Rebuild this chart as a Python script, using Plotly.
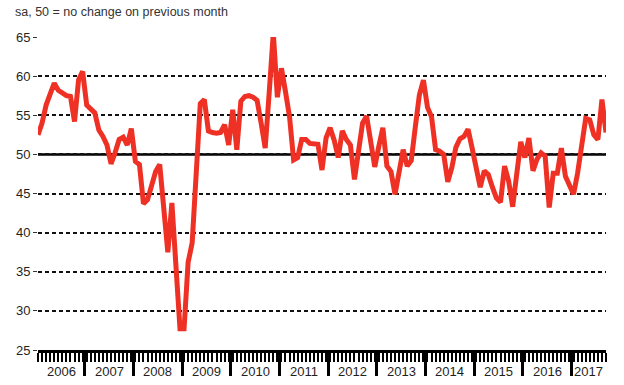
import plotly.graph_objects as go

# Monthly index, seasonally adjusted, Jan 2006 onwards (50 = no change on previous month)
first_year = 2006
index_values = [
    # 2006
    52.5, 54.0, 56.3, 57.8, 59.1, 58.2, 57.8, 57.5, 57.4, 54.2, 59.5, 60.6,
    # 2007
    56.3, 55.9, 55.3, 53.1, 52.3, 51.2, 48.8, 50.2, 51.9, 52.2, 51.2, 53.3,
    # 2008
    49.1, 48.7, 43.7, 44.2, 46.2, 47.8, 48.7, 42.1, 37.5, 43.8, 35.3, 27.7,
    # 2009
    27.7, 36.2, 38.7, 47.5, 56.5, 57.0, 53.0, 52.8, 52.7, 52.8, 53.8, 51.2,
    # 2010
    55.7, 50.6, 56.8, 57.4, 57.5, 57.3, 56.9, 54.0, 50.8, 58.0, 65.5, 57.3,
    # 2011
    61.0, 58.0, 54.8, 49.3, 49.6, 51.9, 51.9, 51.4, 51.3, 51.3, 48.0, 52.1,
    # 2012
    53.4, 51.8, 49.6, 53.0, 51.9, 51.2, 46.8, 50.4, 54.0, 54.9, 51.7, 48.4,
    # 2013
    51.0, 53.4, 48.5, 47.8, 44.9, 47.7, 50.6, 48.5, 49.2, 53.5, 57.6, 59.5,
    # 2014
    56.0, 54.8, 50.6, 50.4, 50.0, 46.5, 48.3, 50.9, 52.0, 52.3, 53.2, 50.8,
    # 2015
    48.2, 45.8, 47.9, 47.4, 45.8, 44.4, 43.9, 48.5, 46.6, 43.3, 47.5, 51.6,
    # 2016
    49.6, 52.1, 47.9, 49.4, 50.2, 49.8, 43.2, 47.6, 47.6, 50.8, 47.2, 46.0,
    # 2017
    44.9, 47.6, 51.5, 54.6, 54.4, 52.5, 51.9, 57.0, 52.8,
]
year_labels = ["2006", "2007", "2008", "2009", "2010", "2011",
               "2012", "2013", "2014", "2015", "2016", "2017"]
y_ticks = [25, 30, 35, 40, 45, 50, 55, 60, 65]
no_change_level = 50
subtitle = "sa, 50 = no change on previous month"

month_idx = list(range(len(index_values)))
last_idx = month_idx[-1]

# year boundaries sit between December and January
year_bounds = [12 * k - 0.5 for k in range(1, len(year_labels))]
year_centres = []
for k in range(len(year_labels)):
    lo = max(0, 12 * k - 0.5)
    hi = min(last_idx, 12 * (k + 1) - 0.5)
    year_centres.append((lo + hi) / 2)

LINE_RED = "#ee3124"
INK = "#1f1f1f"
FONT = "Liberation Sans, Arial, sans-serif"

fig = go.Figure()
fig.add_trace(go.Scatter(
    x=month_idx, y=index_values, mode="lines",
    line=dict(color=LINE_RED, width=5, shape="linear"),
    cliponaxis=False, hoverinfo="skip", showlegend=False,
))

# solid reference line at 50
fig.add_shape(type="line", xref="paper", x0=0, x1=1, yref="y",
              y0=no_change_level, y1=no_change_level,
              line=dict(color="#000000", width=2.5), layer="below")

for label, xc in zip(year_labels, year_centres):
    fig.add_annotation(x=xc, xref="x", y=0, yref="paper", yshift=-21,
                       text=label, showarrow=False, xanchor="center",
                       yanchor="middle", font=dict(size=13, color=INK, family=FONT))

fig.add_annotation(x=0, xref="paper", xshift=-25, y=1, yref="paper", yshift=25,
                   text=subtitle, showarrow=False, xanchor="left", yanchor="middle",
                   font=dict(size=12.5, color="#333333", family=FONT))

fig.update_layout(
    width=624, height=385,
    margin=dict(l=38, r=18, t=37, b=33),
    paper_bgcolor="white", plot_bgcolor="white",
    font=dict(family=FONT, color=INK, size=13),
    xaxis=dict(
        range=[0, last_idx], showgrid=False, zeroline=False,
        showline=True, linecolor="#000000", linewidth=3,
        tickmode="array", tickvals=year_bounds, ticktext=[""] * len(year_bounds),
        ticks="outside", ticklen=23, tickwidth=2.5, tickcolor="#000000",
        minor=dict(tickmode="array", tickvals=month_idx, ticks="outside",
                   ticklen=9, tickwidth=1.5, tickcolor="#000000", showgrid=False),
        fixedrange=True,
    ),
    yaxis=dict(
        range=[25, 65], tickmode="array", tickvals=y_ticks,
        showgrid=True, gridcolor="#111111", gridwidth=1.5, griddash="4px,3px",
        zeroline=False, showline=False,
        ticks="outside", ticklen=4, tickwidth=1, tickcolor="#333333",
        tickfont=dict(size=13, color=INK, family=FONT),
        fixedrange=True,
    ),
)

fig.write_html("out.html")
